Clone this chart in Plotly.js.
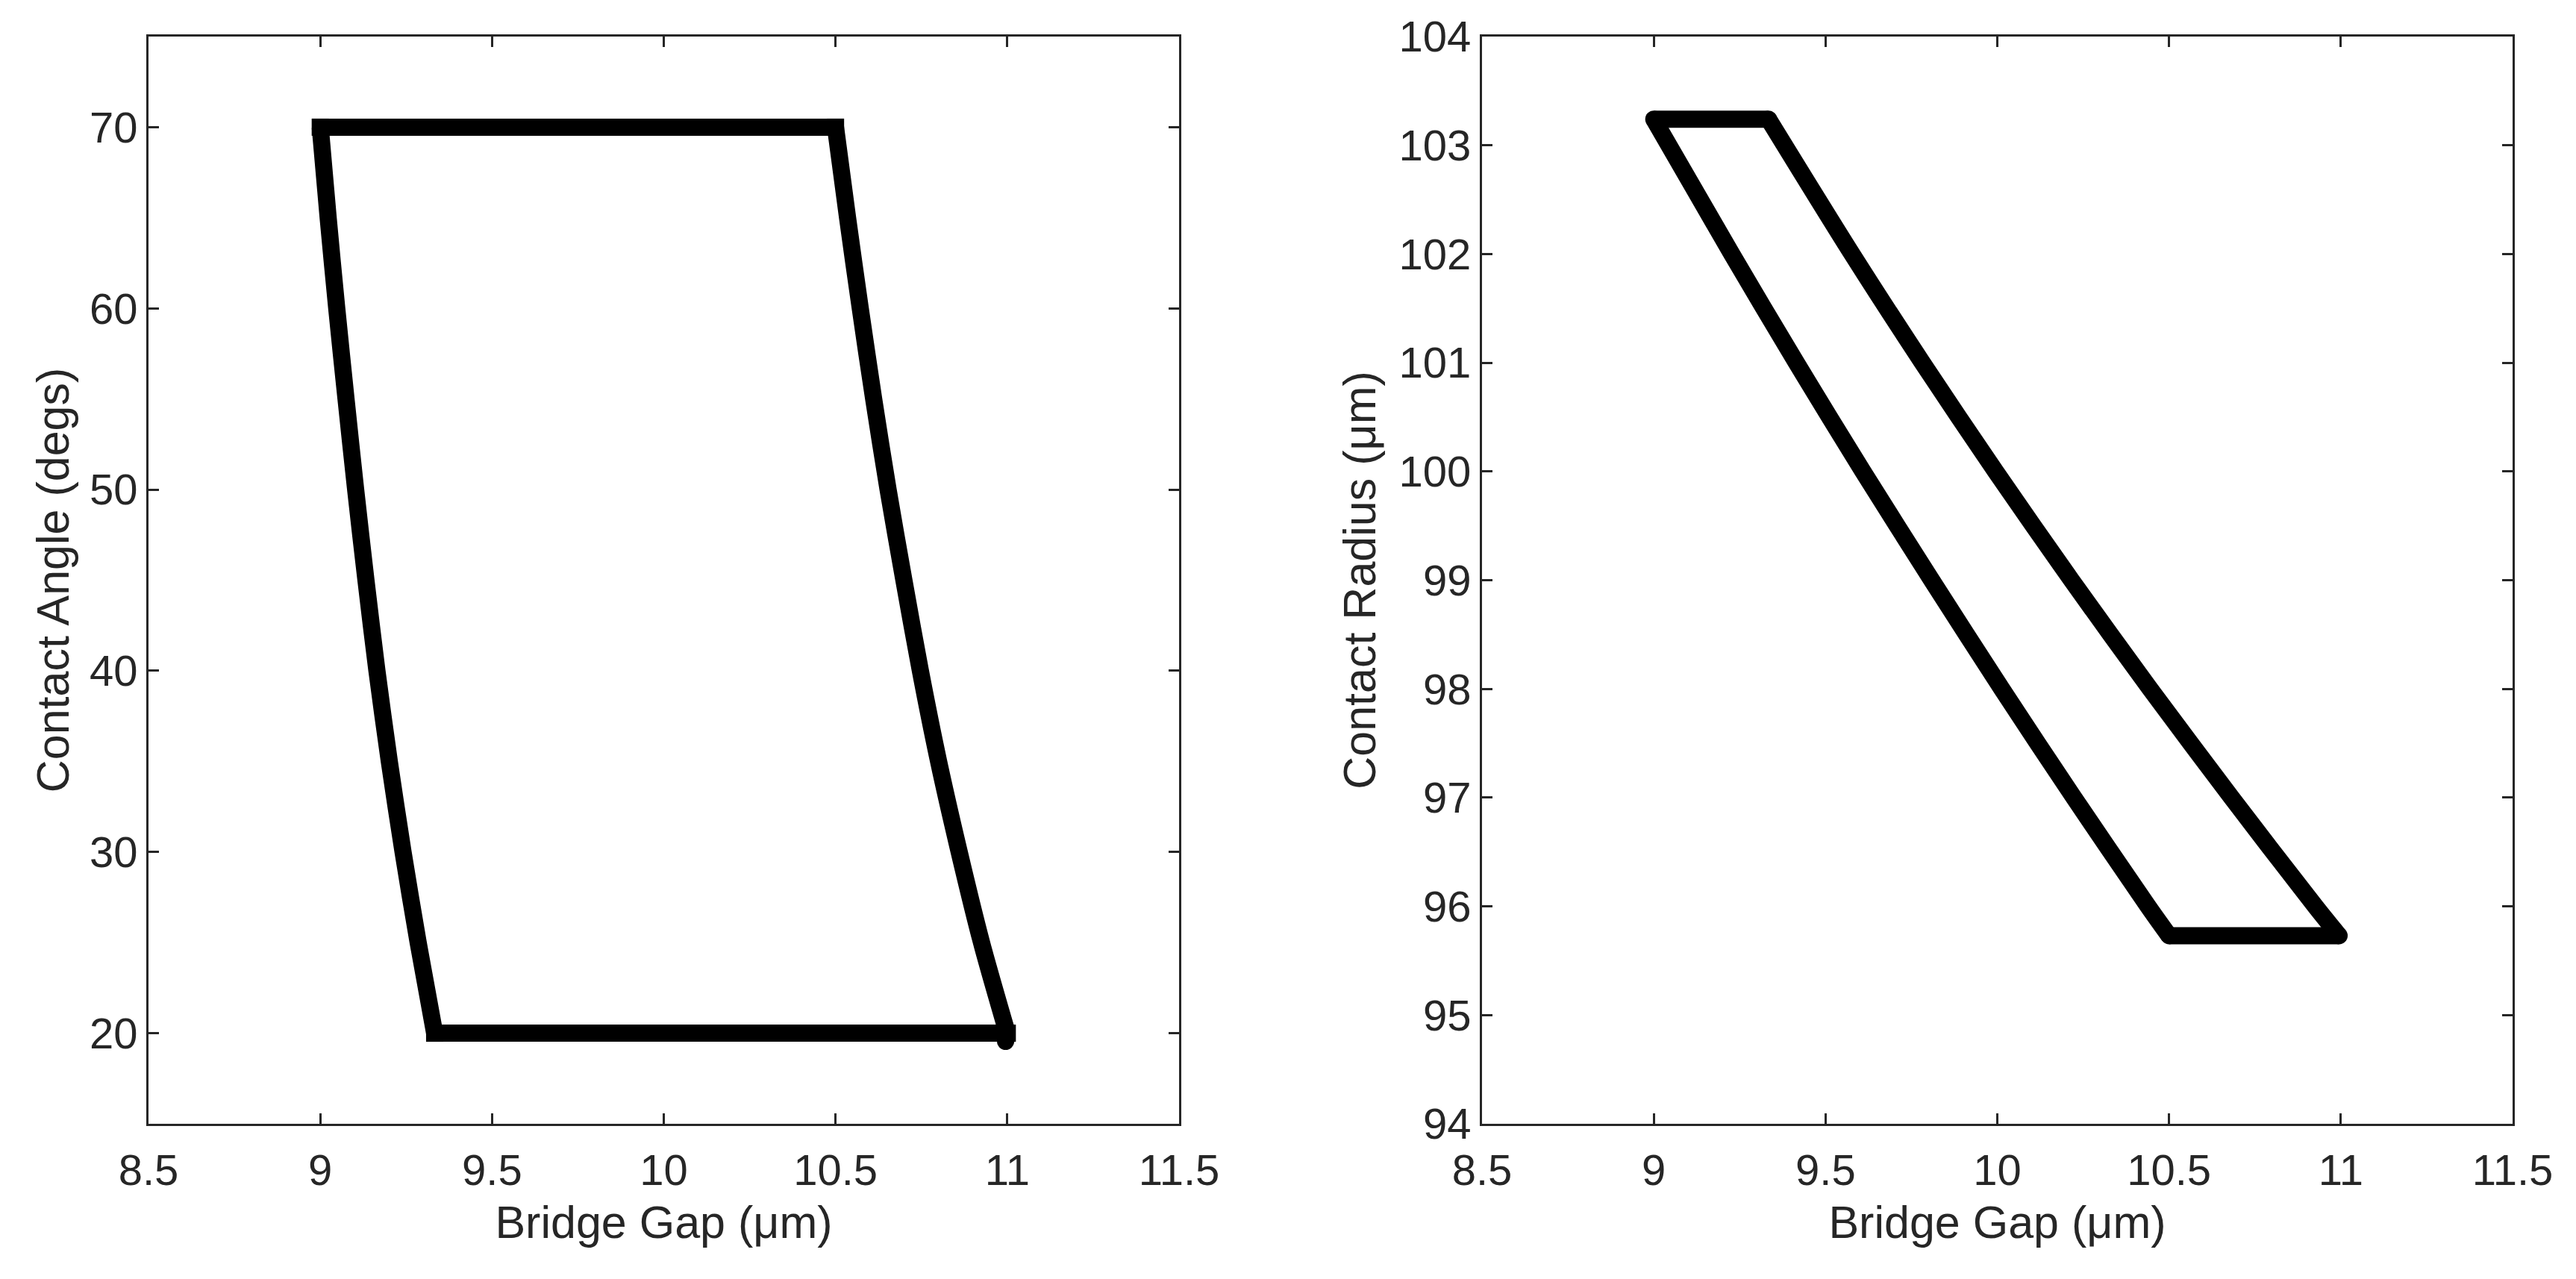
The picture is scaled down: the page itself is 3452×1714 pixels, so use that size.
<!DOCTYPE html>
<html>
<head>
<meta charset="utf-8">
<script src="https://cdn.plot.ly/plotly-3.0.1.min.js"></script>
<style>
  html, body { margin: 0; padding: 0; background: #ffffff; }
  #chart { width: 3452px; height: 1714px; }
</style>
</head>
<body>
<div id="chart"></div>
<script>
// ---- Left panel: contact angle (degs) vs bridge gap (um) ----
// top edge
var angleTopGap = [9.0, 10.5];
var angleTopDeg = [70, 70];
// right (curved) edge, top to bottom
var angleRightGap = [10.5, 10.535, 10.572, 10.611, 10.653, 10.699, 10.747, 10.800, 10.860, 10.925, 11.0];
var angleRightDeg = [70, 65, 60, 55, 50, 45, 40, 35, 30, 25, 20];
// bottom edge
var angleBottomGap = [11.0, 9.333];
var angleBottomDeg = [20, 20];
// left (curved) edge, bottom to top
var angleLeftGap = [9.333, 9.285, 9.241, 9.201, 9.165, 9.133, 9.103, 9.075, 9.048, 9.023, 9.0];
var angleLeftDeg = [20, 25, 30, 35, 40, 45, 50, 55, 60, 65, 70];
// small end-point stub at the lower-right corner
var angleEndGap = [11.0, 10.995];
var angleEndDeg = [20, 19.55];

// ---- Right panel: contact radius (um) vs bridge gap (um) ----
var radiusTopGap = [9.0, 9.334];
var radiusTopUm = [103.24, 103.24];
var radiusRightGap = [9.334, 9.577, 9.782, 9.995, 10.216, 10.445, 10.682, 10.926, 10.995];
var radiusRightUm = [103.24, 102, 101, 100, 99, 98, 97, 96, 95.73];
var radiusBottomGap = [10.995, 10.5];
var radiusBottomUm = [95.73, 95.73];
var radiusLeftGap = [10.5, 10.439, 10.223, 10.013, 9.809, 9.609, 9.415, 9.227, 9.0];
var radiusLeftUm = [95.73, 96, 97, 98, 99, 100, 101, 102, 103.24];

var xTicks = [8.5, 9, 9.5, 10, 10.5, 11, 11.5];
var xTickText = ['8.5', '9', '9.5', '10', '10.5', '11', '11.5'];
var angleTicks = [20, 30, 40, 50, 60, 70];
var radiusTicks = [94, 95, 96, 97, 98, 99, 100, 101, 102, 103, 104];

var axisColor = '#262626';
var fontFam = 'Liberation Sans, Arial, Helvetica, sans-serif';
var tickFont = {family: fontFam, size: 58, color: axisColor};
var titleFont = {family: fontFam, size: 61, color: axisColor};
var LW = 23;

function side(xs, ys, xa, ya, curved) {
  return {x: xs, y: ys, xaxis: xa, yaxis: ya, mode: 'lines',
          line: {color: '#000000', width: LW, shape: curved ? 'spline' : 'linear', smoothing: 0.8},
          showlegend: false, hoverinfo: 'skip'};
}
function corners(sides, xa, ya, symbol) {
  var cx = [], cy = [];
  sides.forEach(function (s) { cx.push(s[0][0]); cy.push(s[1][0]); });
  return {x: cx, y: cy, xaxis: xa, yaxis: ya, mode: 'markers',
          marker: {symbol: symbol, size: LW, color: '#000000', opacity: 1, line: {width: 0}},
          showlegend: false, hoverinfo: 'skip'};
}

var leftSides = [[angleTopGap, angleTopDeg], [angleRightGap, angleRightDeg],
                 [angleBottomGap, angleBottomDeg], [angleLeftGap, angleLeftDeg]];
var rightSides = [[radiusTopGap, radiusTopUm], [radiusRightGap, radiusRightUm],
                  [radiusBottomGap, radiusBottomUm], [radiusLeftGap, radiusLeftUm]];

var traces = [
  side(angleTopGap, angleTopDeg, 'x', 'y', false),
  side(angleRightGap, angleRightDeg, 'x', 'y', true),
  side(angleBottomGap, angleBottomDeg, 'x', 'y', false),
  side(angleLeftGap, angleLeftDeg, 'x', 'y', true),
  corners(leftSides, 'x', 'y', 'square'),
  side(angleEndGap, angleEndDeg, 'x', 'y', false),
  {x: angleEndGap.slice(1), y: angleEndDeg.slice(1), xaxis: 'x', yaxis: 'y', mode: 'markers',
   marker: {symbol: 'circle', size: LW, color: '#000000', opacity: 1, line: {width: 0}},
   showlegend: false, hoverinfo: 'skip'},
  side(radiusTopGap, radiusTopUm, 'x2', 'y2', false),
  side(radiusRightGap, radiusRightUm, 'x2', 'y2', true),
  side(radiusBottomGap, radiusBottomUm, 'x2', 'y2', false),
  side(radiusLeftGap, radiusLeftUm, 'x2', 'y2', true),
  corners(rightSides, 'x2', 'y2', 'circle')
];

function baseAxis() {
  return {
    showline: true, linecolor: axisColor, linewidth: 3, mirror: 'allticks',
    ticks: 'inside', ticklen: 14, tickwidth: 3, tickcolor: axisColor,
    showgrid: false, zeroline: false, tickfont: tickFont, fixedrange: true
  };
}

var xa = Object.assign(baseAxis(), {
  domain: [0, 0.43592], range: [8.5, 11.5], tickmode: 'array', tickvals: xTicks, ticktext: xTickText,
  anchor: 'y', ticklabelstandoff: 9,
  title: {text: 'Bridge Gap (μm)', font: titleFont, standoff: 18}, automargin: true
});
var xa2 = Object.assign(baseAxis(), {
  domain: [0.56408, 1], range: [8.5, 11.5], tickmode: 'array', tickvals: xTicks, ticktext: xTickText,
  anchor: 'y2', ticklabelstandoff: 9,
  title: {text: 'Bridge Gap (μm)', font: titleFont, standoff: 18}, automargin: true
});
var ya = Object.assign(baseAxis(), {
  domain: [0, 1], range: [15, 75], tickmode: 'array', tickvals: angleTicks,
  anchor: 'x', title: {text: 'Contact Angle (degs)', font: titleFont, standoff: 8}, automargin: true
});
var ya2 = Object.assign(baseAxis(), {
  domain: [0, 1], range: [94, 104], tickmode: 'array', tickvals: radiusTicks,
  anchor: 'x2', title: {text: 'Contact Radius (μm)', font: titleFont, standoff: 12}, automargin: true
});

var layout = {
  width: 3452, height: 1714,
  margin: {l: 199, r: 85, t: 49, b: 208, pad: 0},
  paper_bgcolor: '#ffffff', plot_bgcolor: '#ffffff',
  font: {family: fontFam, color: axisColor},
  xaxis: xa, yaxis: ya, xaxis2: xa2, yaxis2: ya2,
  showlegend: false
};

Plotly.newPlot('chart', traces, layout, {displayModeBar: false, staticPlot: true});
</script>
</body>
</html>
